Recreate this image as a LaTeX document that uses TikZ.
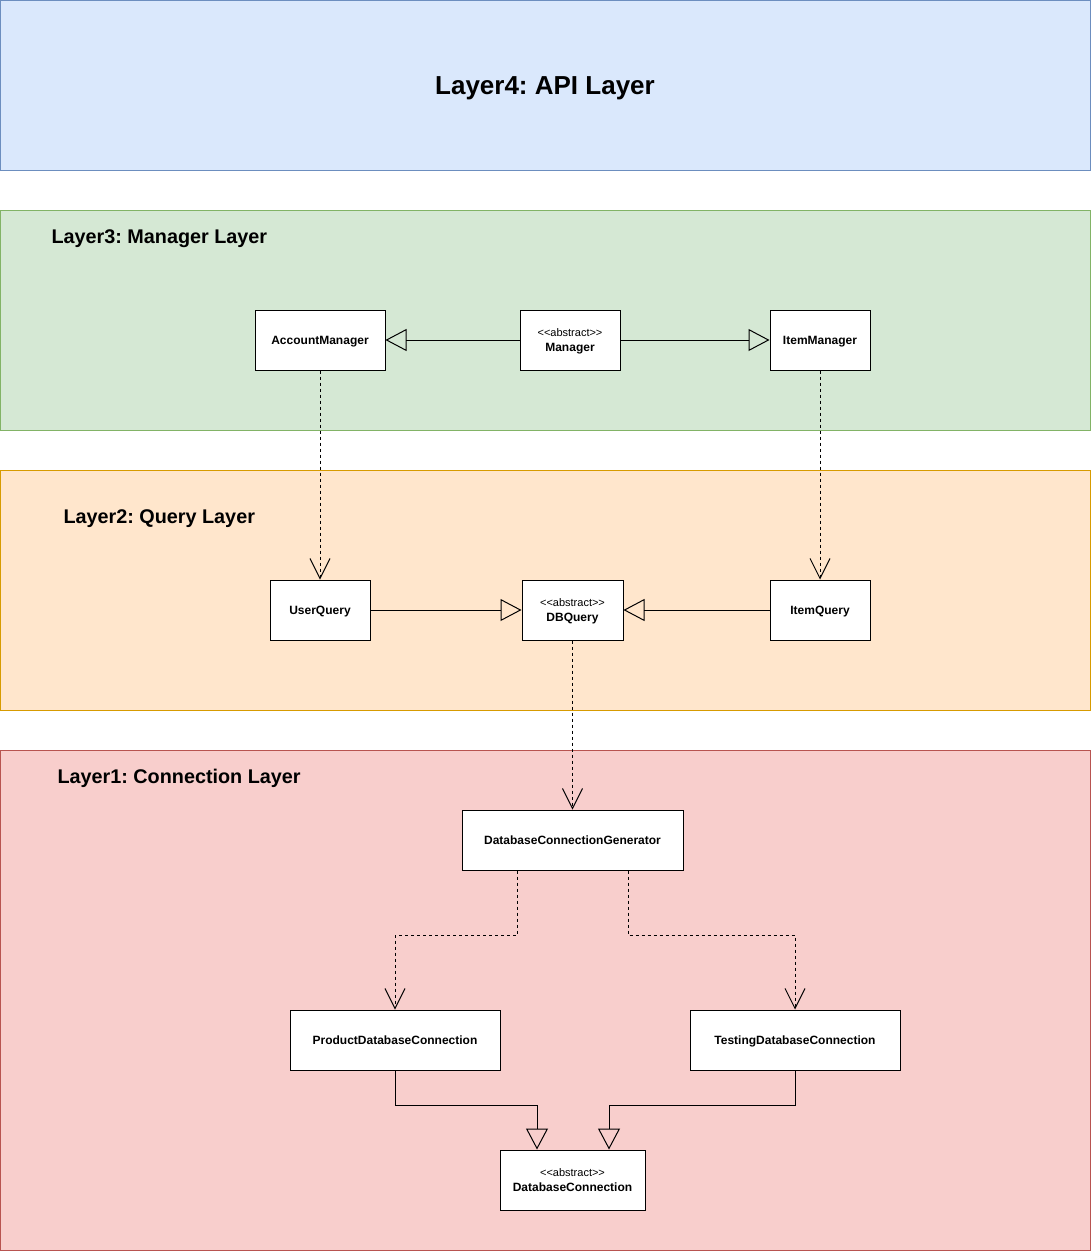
\documentclass[tikz,border=0pt]{standalone}
\usepackage{fontspec}
\setmainfont{Liberation Sans}
\usetikzlibrary{arrows.meta}
\definecolor{bluef}{HTML}{DAE8FC}\definecolor{blued}{HTML}{6C8EBF}
\definecolor{greenf}{HTML}{D5E8D4}\definecolor{greend}{HTML}{82B366}
\definecolor{orangef}{HTML}{FFE6CC}\definecolor{oranged}{HTML}{D79B00}
\definecolor{redf}{HTML}{F8CECC}\definecolor{redd}{HTML}{B85450}
\frenchspacing
\newcommand{\abst}{{\fontsize{11}{13}\selectfont\mdseries <{}<abstract>{}>}}
\begin{document}
\begin{tikzpicture}[x=1pt,y=-1pt,line width=1pt,
  layer/.style={draw=#1d,fill=#1f,line width=1pt},
  cls/.style={draw=black,fill=white,line width=1pt,inner sep=0pt,align=center,text depth=0pt,font=\fontsize{12}{15}\selectfont\bfseries},
  ltitle/.style={font=\fontsize{19.8}{24}\selectfont\bfseries,anchor=west,inner sep=0pt,text depth=0pt,text height=14.2pt},
  inh/.style={-{Triangle[open,length=21pt,width=22pt]}},
  dep/.style={dash pattern=on 3pt off 3pt,-{Straight Barb[length=20pt,width=20pt]}},
]
\useasboundingbox (0,0) rectangle (1091,1251);
% layers
\path[layer=blue] (0.5,0.5) rectangle (1090.5,170);
\path[layer=green] (0.5,210) rectangle (1090.5,430);
\path[layer=orange] (0.5,470) rectangle (1090.5,710);
\path[layer=red] (0.5,750) rectangle (1090.5,1250.5);
\node[font=\fontsize{26}{30}\selectfont\bfseries,text depth=0pt,text height=18.7pt] (t4) at (545,85) {Layer4: API Layer};
\node[ltitle] (t3) at (51,236.3) {Layer3: Manager Layer};
\node[ltitle] (t2) at (63,516.3) {Layer2: Query Layer};
\node[ltitle] (t1) at (57,776.3) {Layer1: Connection Layer};
% nodes
\node[cls,minimum width=130pt,minimum height=60pt] (am) at (320,340) {AccountManager};
\node[cls,minimum width=100pt,minimum height=60pt] (m) at (570,340) {\abst\\Manager};
\node[cls,minimum width=100pt,minimum height=60pt] (im) at (820,340) {ItemManager};
\node[cls,minimum width=100pt,minimum height=60pt] (uq) at (320,610) {UserQuery};
\node[cls,minimum width=101pt,minimum height=60pt] (dq) at (572.5,610) {\abst\\DBQuery};
\node[cls,minimum width=100pt,minimum height=60pt] (iq) at (820,610) {ItemQuery};
\node[cls,minimum width=221pt,minimum height=60pt] (dcg) at (572.5,840) {DatabaseConnectionGenerator};
\node[cls,minimum width=210pt,minimum height=60pt] (pdc) at (395,1040) {ProductDatabaseConnection};
\node[cls,minimum width=210pt,minimum height=60pt] (tdc) at (795,1040) {TestingDatabaseConnection};
\node[cls,minimum width=145pt,minimum height=60pt] (dc) at (572.5,1180) {\abst\\DatabaseConnection};
% edges
\draw[inh] (m.west) -- (am.east);
\draw[inh] (m.east) -- (im.west);
\draw[dep] (am.south) -- (uq.north);
\draw[dep] (im.south) -- (iq.north);
\draw[inh] (uq.east) -- (dq.west);
\draw[inh] (iq.west) -- (dq.east);
\draw[dep] (dq.south) -- (dcg.north);
\draw[dep] ([xshift=-55.5pt]dcg.south) |- (395,935) -- (pdc.north);
\draw[dep] ([xshift=55.5pt]dcg.south) |- (795,935) -- (tdc.north);
\draw[inh] (pdc.south) |- (537,1105) -- ([xshift=-35.5pt]dc.north);
\draw[inh] (tdc.south) |- (609,1105) -- ([xshift=36.5pt]dc.north);
\end{tikzpicture}
\end{document}
